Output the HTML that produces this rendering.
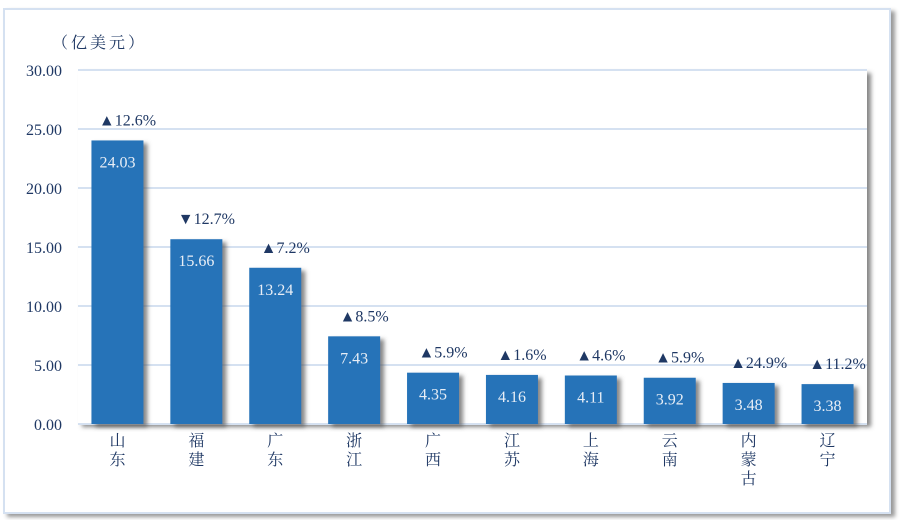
<!DOCTYPE html>
<html><head><meta charset="utf-8">
<style>
body{margin:0;background:#fff;width:904px;height:520px;overflow:hidden;font-family:"Liberation Serif","Noto Serif CJK SC",serif;}
#frame{position:absolute;left:3px;top:8px;width:884px;height:502px;border:2px solid #d5e1f1;box-shadow:4px 3px 4px #999;background:#fff;}
svg{position:absolute;left:0;top:0;}
</style></head><body>
<div id="frame"></div>
<svg id="chart" width="904" height="520">
<defs><filter id="sh" x="-20%" y="-20%" width="150%" height="150%"><feDropShadow dx="4" dy="3" stdDeviation="2" flood-color="#555" flood-opacity="0.7"/></filter></defs>
</svg>
<script>
const categories=["山东","福建","广东","浙江","广西","江苏","上海","云南","内蒙古","辽宁"];
const values=[24.03,15.66,13.24,7.43,4.35,4.16,4.11,3.92,3.48,3.38];
const changes=[12.6,-12.7,7.2,8.5,5.9,1.6,4.6,5.9,24.9,11.2];
const yTicks=[0,5,10,15,20,25,30];
const NS="http://www.w3.org/2000/svg";
const svg=document.getElementById('chart');
const L=78,R=867,T=70,B=424,yMax=30;
const y=v=>B-(v/yMax)*(B-T);
const band=(R-L)/categories.length;
const xc=i=>L+band*(i+0.5);
function mk(t,a,p){const e=document.createElementNS(NS,t);for(const k in a)e.setAttribute(k,a[k]);(p||svg).appendChild(e);return e;}
const plot=mk('rect',{x:L,y:T,width:R-L,height:B-T,fill:'#fff',filter:'url(#sh)'});


yTicks.forEach(v=>{
 const g=mk('line',{x1:L,x2:R,y1:y(v),y2:y(v),stroke:'#d5e1f1','stroke-width':2});
 
 
 const t=mk('text',{x:62,y:y(v)+6,'text-anchor':'end','font-size':16,fill:'#1f3864'});
 t.textContent=v.toFixed(2);
 
 
});
const u=mk('text',{x:52,y:48,'font-size':16,fill:'#1f3864','letter-spacing':'3'});
u.textContent='（亿美元）';


const bw=52;
categories.forEach((c,i)=>{
 const v=values[i];
 const b=mk('rect',{x:xc(i)-bw/2,y:y(v),width:bw,height:B-y(v),fill:'#2673b8',filter:'url(#sh)'});
 
 
 const vl=mk('text',{x:xc(i),y:y(v)+27,'text-anchor':'middle','font-size':16,fill:'#e8eef6'});
 vl.textContent=v.toFixed(2);
 
 
 const ch=changes[i];
 const cl=mk('text',{x:xc(i)+10,y:y(v)-15,'text-anchor':'middle','font-size':16,fill:'#1f3864'});
 cl.textContent=(ch>=0?'▲':'▼')+Math.abs(ch).toFixed(1)+'%';
 
 
 [...c].forEach((ch2,k)=>{
  const cx=mk('text',{x:xc(i),y:B+22+k*19,'text-anchor':'middle','font-size':16,fill:'#1f3864'});
  cx.textContent=ch2;
  
  
 });
});
</script>
</body></html>
